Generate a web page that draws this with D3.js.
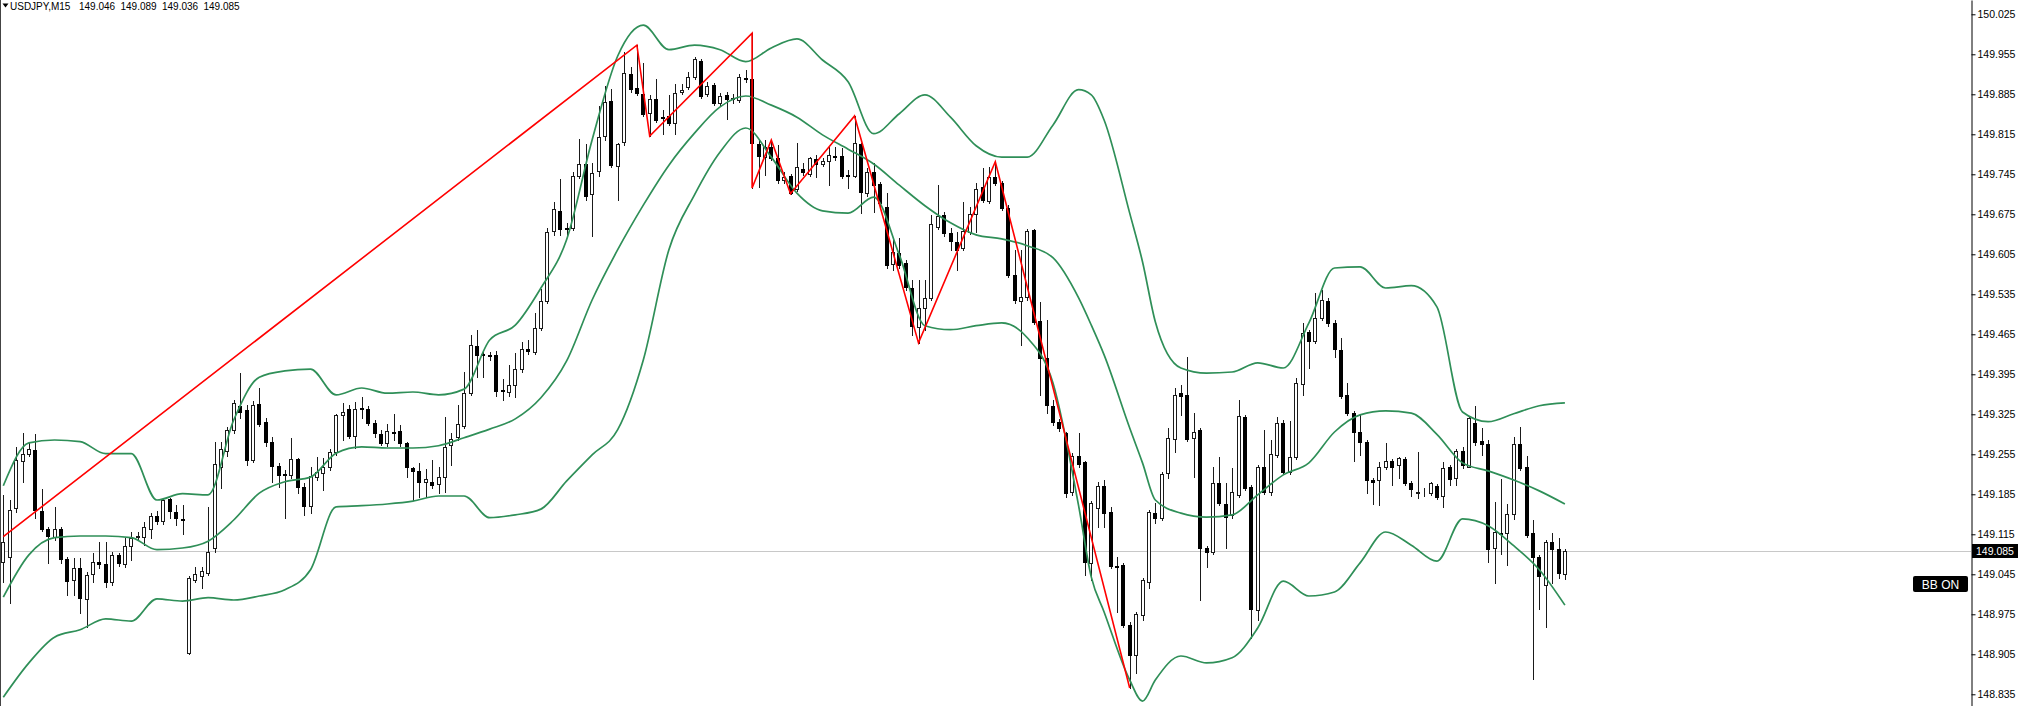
<!DOCTYPE html>
<html><head><meta charset="utf-8">
<script src="https://cdn.jsdelivr.net/npm/d3@7"></script>
<style>html,body{margin:0;padding:0;background:#fff;overflow:hidden}</style>
</head><body>
<svg id="c" width="2021" height="706" xmlns="http://www.w3.org/2000/svg"></svg>
<script>
const symbolLabel = "USDJPY,M15";
const indicatorLabel = "BB ON";
const lastPrice = 149.085;
const priceTicks = [150.025,149.955,149.885,149.815,149.745,149.675,149.605,149.535,149.465,149.395,149.325,149.255,149.185,149.115,149.045,148.975,148.905,148.835];

const opens = [149.066,149.075,149.161,149.243,149.255,149.262,149.156,149.124,149.110,149.124,149.072,149.035,149.056,149.002,149.046,149.067,149.063,149.032,149.079,149.063,149.095,149.110,149.110,149.124,149.147,149.138,149.177,149.154,149.142,148.907,149.035,149.042,149.047,149.091,149.233,149.261,149.298,149.340,149.333,149.245,149.343,149.312,149.277,149.235,149.221,149.219,149.247,149.198,149.165,149.215,149.222,149.233,149.259,149.324,149.334,149.287,149.336,149.334,149.310,149.290,149.275,149.294,149.296,149.275,149.231,149.226,149.206,149.206,149.203,149.215,149.271,149.285,149.305,149.362,149.445,149.431,149.429,149.429,149.368,149.364,149.376,149.404,149.439,149.434,149.476,149.523,149.646,149.681,149.651,149.651,149.742,149.763,149.711,149.751,149.812,149.873,149.760,149.802,149.921,149.896,149.886,149.852,149.877,149.845,149.847,149.835,149.889,149.898,149.915,149.943,149.886,149.901,149.870,149.884,149.877,149.875,149.914,149.912,149.798,149.775,149.793,149.774,149.735,149.742,149.719,149.754,149.746,149.772,149.763,149.768,149.777,149.777,149.744,149.742,149.798,149.712,149.749,149.728,149.688,149.588,149.607,149.590,149.546,149.478,149.511,149.529,149.653,149.674,149.642,149.627,149.616,149.644,149.676,149.723,149.698,149.740,149.730,149.686,149.569,149.523,149.530,149.648,149.488,149.424,149.340,149.312,149.292,149.189,149.252,149.242,149.065,149.161,149.200,149.154,149.060,149.061,148.956,148.904,148.974,149.032,149.152,149.143,149.222,149.282,149.362,149.359,149.284,149.298,149.091,149.084,149.205,149.168,149.149,149.184,149.320,149.198,148.983,149.233,149.189,149.254,149.310,149.224,149.250,149.378,149.469,149.453,149.494,149.523,149.485,149.438,149.359,149.327,149.294,149.277,149.210,149.210,149.233,149.243,149.236,149.247,149.205,149.187,149.187,149.187,149.200,149.182,149.233,149.214,149.261,149.233,149.310,149.278,149.273,149.091,149.117,149.117,149.151,149.273,149.233,149.117,149.075,149.026,149.102,149.089,149.046];
const highs = [149.184,149.175,149.268,149.292,149.275,149.290,149.194,149.128,149.163,149.128,149.075,149.074,149.074,149.049,149.082,149.102,149.102,149.084,149.082,149.109,149.119,149.119,149.137,149.152,149.156,149.179,149.179,149.166,149.166,149.042,149.058,149.058,149.163,149.277,149.277,149.303,149.350,149.397,149.341,149.348,149.371,149.319,149.285,149.240,149.228,149.284,149.249,149.205,149.233,149.250,149.249,149.264,149.326,149.345,149.341,149.347,149.355,149.340,149.315,149.298,149.308,149.325,149.306,149.277,149.233,149.240,149.229,149.245,149.233,149.320,149.292,149.341,149.399,149.464,149.473,149.434,149.434,149.436,149.387,149.411,149.432,149.452,149.455,149.502,149.544,149.651,149.697,149.737,149.660,149.749,149.807,149.798,149.765,149.865,149.900,149.894,149.800,149.959,149.933,149.971,149.940,149.884,149.912,149.858,149.884,149.903,149.903,149.924,149.950,149.947,149.907,149.905,149.887,149.889,149.886,149.921,149.928,149.992,149.805,149.805,149.805,149.796,149.749,149.746,149.800,149.765,149.776,149.779,149.774,149.793,149.793,149.791,149.753,149.847,149.799,149.756,149.765,149.732,149.712,149.634,149.634,149.595,149.560,149.560,149.560,149.674,149.726,149.679,149.651,149.644,149.697,149.688,149.730,149.756,149.758,149.767,149.733,149.691,149.613,149.613,149.649,149.650,149.522,149.490,149.350,149.317,149.294,149.257,149.292,149.243,149.173,149.206,149.210,149.163,149.075,149.065,148.962,148.979,149.039,149.158,149.170,149.224,149.301,149.371,149.376,149.425,149.327,149.301,149.095,149.233,149.250,149.205,149.231,149.350,149.324,149.201,149.236,149.298,149.280,149.320,149.315,149.313,149.389,149.485,149.473,149.537,149.543,149.529,149.490,149.459,149.380,149.331,149.324,149.280,149.214,149.242,149.275,149.247,149.250,149.250,149.208,149.259,149.196,149.206,149.203,149.242,149.236,149.264,149.268,149.321,149.340,149.301,149.280,149.172,149.212,149.168,149.285,149.303,149.252,149.140,149.079,149.105,149.117,149.109,149.089];
const lows = [149.031,148.995,149.154,149.206,149.252,149.143,149.121,149.065,149.105,149.065,149.009,149.009,148.977,148.953,149.032,149.056,149.023,149.026,149.060,149.058,149.070,149.105,149.096,149.109,149.133,149.133,149.143,149.131,149.116,148.905,149.032,149.021,149.044,149.084,149.196,149.252,149.292,149.319,149.236,149.242,149.305,149.270,149.206,149.198,149.143,149.214,149.187,149.149,149.152,149.210,149.193,149.228,149.254,149.280,149.284,149.266,149.319,149.306,149.285,149.271,149.270,149.280,149.270,149.215,149.175,149.180,149.180,149.196,149.187,149.189,149.236,149.280,149.301,149.359,149.390,149.390,149.420,149.357,149.350,149.357,149.355,149.399,149.431,149.431,149.473,149.520,149.639,149.639,149.639,149.648,149.739,149.700,149.637,149.742,149.805,149.758,149.700,149.796,149.889,149.884,149.847,149.812,149.837,149.816,149.831,149.816,149.886,149.894,149.912,149.879,149.882,149.866,149.865,149.842,149.870,149.872,149.907,149.721,149.723,149.744,149.770,149.730,149.730,149.711,149.716,149.744,149.742,149.740,149.760,149.726,149.770,149.739,149.721,149.740,149.677,149.707,149.679,149.690,149.581,149.578,149.581,149.543,149.464,149.450,149.473,149.525,149.649,149.637,149.613,149.578,149.613,149.641,149.644,149.697,149.695,149.726,149.683,149.565,149.520,149.446,149.525,149.483,149.359,149.327,149.306,149.296,149.180,149.184,149.233,149.044,149.035,149.128,149.128,149.056,148.979,148.953,148.846,148.872,148.965,149.021,149.135,149.140,149.214,149.259,149.324,149.278,149.215,149.000,149.058,149.081,149.166,149.091,149.143,149.180,149.193,148.934,148.965,149.186,149.184,149.250,149.221,149.221,149.247,149.359,149.406,149.450,149.490,149.480,149.425,149.354,149.324,149.243,149.254,149.187,149.168,149.166,149.229,149.201,149.214,149.201,149.182,149.179,149.182,149.184,149.177,149.163,149.201,149.201,149.231,149.232,149.271,149.254,149.067,149.030,149.081,149.061,149.142,149.228,149.110,148.862,148.984,148.953,149.030,149.039,149.036];
const closes = [149.101,149.158,149.245,149.255,149.264,149.157,149.124,149.112,149.124,149.072,149.033,149.056,149.004,149.044,149.067,149.063,149.032,149.079,149.065,149.095,149.109,149.112,149.128,149.147,149.138,149.175,149.156,149.143,149.140,149.039,149.046,149.051,149.084,149.238,149.264,149.298,149.345,149.329,149.245,149.341,149.308,149.277,149.235,149.219,149.219,149.247,149.198,149.165,149.217,149.224,149.233,149.259,149.324,149.329,149.287,149.334,149.334,149.310,149.292,149.275,149.296,149.292,149.275,149.233,149.226,149.206,149.212,149.201,149.215,149.268,149.282,149.308,149.362,149.446,149.429,149.429,149.427,149.366,149.366,149.376,149.404,149.439,149.436,149.476,149.523,149.644,149.684,149.649,149.649,149.742,149.763,149.707,149.747,149.810,149.872,149.761,149.798,149.922,149.894,149.887,149.851,149.877,149.840,149.844,149.835,149.887,149.893,149.915,149.947,149.882,149.900,149.870,149.882,149.877,149.879,149.915,149.912,149.800,149.777,149.793,149.774,149.735,149.740,149.712,149.758,149.749,149.774,149.763,149.768,149.779,149.775,149.742,149.742,149.800,149.714,149.749,149.726,149.695,149.586,149.609,149.586,149.548,149.480,149.511,149.529,149.658,149.672,149.642,149.628,149.613,149.646,149.676,149.719,149.700,149.740,149.730,149.686,149.569,149.525,149.530,149.646,149.487,149.424,149.341,149.312,149.301,149.187,149.252,149.238,149.067,149.170,149.200,149.152,149.060,149.058,148.956,148.904,148.976,149.035,149.154,149.143,149.221,149.284,149.359,149.357,149.282,149.294,149.091,149.084,149.205,149.170,149.145,149.189,149.322,149.196,148.984,149.233,149.189,149.255,149.310,149.224,149.250,149.380,149.467,149.453,149.494,149.525,149.485,149.439,149.357,149.327,149.294,149.277,149.210,149.206,149.233,149.243,149.233,149.249,149.205,149.194,149.189,149.188,149.205,149.180,149.231,149.212,149.261,149.236,149.319,149.277,149.273,149.089,149.119,149.116,149.151,149.273,149.231,149.114,149.075,149.042,149.102,149.089,149.047,149.085];

const zigzagIdx = [0,99,101,117,117,120,123,133,143,155,176];
const zigzagPrice = [149.111,149.971,149.812,149.992,149.721,149.805,149.711,149.847,149.450,149.767,148.846];

const bandIdx = [0,4,8,12,16,20,24,28,32,36,40,44,48,52,56,60,64,68,72,76,80,84,88,92,96,100,104,108,112,116,120,124,128,132,136,140,144,148,152,156,160,164,168,170,172,176,178,180,184,188,192,196,200,204,208,212,216,220,224,228,232,236,240,244];
const upperBand = [149.200,149.275,149.280,149.277,149.256,149.256,149.175,149.186,149.184,149.315,149.390,149.401,149.404,149.359,149.371,149.362,149.364,149.359,149.369,149.455,149.481,149.546,149.630,149.805,149.952,150.006,149.963,149.971,149.963,149.942,149.966,149.982,149.945,149.907,149.816,149.851,149.884,149.845,149.795,149.775,149.775,149.831,149.893,149.884,149.840,149.677,149.592,149.487,149.406,149.397,149.399,149.415,149.406,149.485,149.581,149.583,149.546,149.550,149.513,149.329,149.312,149.326,149.340,149.345];
const middleBand = [149.005,149.079,149.109,149.112,149.112,149.109,149.088,149.091,149.103,149.140,149.187,149.207,149.215,149.257,149.268,149.266,149.266,149.270,149.284,149.299,149.317,149.354,149.418,149.525,149.613,149.691,149.761,149.817,149.863,149.882,149.866,149.845,149.814,149.789,149.763,149.726,149.690,149.660,149.639,149.632,149.620,149.599,149.529,149.481,149.429,149.301,149.240,149.175,149.152,149.145,149.149,149.184,149.219,149.240,149.294,149.324,149.331,149.327,149.290,149.240,149.226,149.210,149.191,149.168];
const lowerBand = [148.830,148.890,148.935,148.948,148.967,148.963,149.002,148.998,149.004,149.000,149.007,149.018,149.053,149.163,149.165,149.168,149.173,149.182,149.182,149.144,149.149,149.159,149.208,149.254,149.298,149.420,149.613,149.709,149.784,149.826,149.775,149.712,149.681,149.677,149.705,149.604,149.480,149.473,149.480,149.485,149.459,149.380,149.166,149.040,148.979,148.860,148.823,148.860,148.902,148.890,148.899,148.951,149.033,149.007,149.014,149.065,149.119,149.096,149.068,149.142,149.130,149.095,149.053,148.991];

// ---- layout ----
const W = 2021, H = 706, axisX = 1971;
const FONT = "'Liberation Sans', Arial, sans-serif";
const svg = d3.select("#c");
const n = opens.length;
const x = d3.scaleLinear().domain([0, n - 1]).range([3.3, 3.3 + (n - 1) * 6.4]);
const y = d3.scaleLinear().domain([148.8145, 150.050]).range([H, 0]);

svg.append("rect").attr("width", W).attr("height", H).attr("fill", "#fff");

// current price line
svg.append("line").attr("x1", 0).attr("x2", axisX).attr("y1", Math.round(y(lastPrice)) + 0.5).attr("y2", Math.round(y(lastPrice)) + 0.5)
  .attr("stroke", "#c8c8c8").attr("stroke-width", 1);

// candles
const idx = d3.range(n);
const px = i => Math.round(x(i));
const cg = svg.append("g").attr("shape-rendering", "crispEdges");
cg.selectAll("line.w").data(idx).join("line").attr("class", "w")
  .attr("x1", i => px(i) + 0.5).attr("x2", i => px(i) + 0.5)
  .attr("y1", i => Math.round(y(highs[i]))).attr("y2", i => Math.round(y(lows[i])) + 1)
  .attr("stroke", "#1a1a1a").attr("stroke-width", 1);
cg.selectAll("rect.b").data(idx).join("rect").attr("class", "b")
  .each(function(i) {
    const bull = closes[i] >= opens[i];
    const top = Math.round(y(Math.max(opens[i], closes[i])));
    const bot = Math.round(y(Math.min(opens[i], closes[i])));
    const sel = d3.select(this);
    if (bull) {
      sel.attr("x", px(i) - 1.5).attr("y", top + 0.5).attr("width", 3).attr("height", Math.max(0, bot - top))
        .attr("fill", "#fff").attr("stroke", "#1a1a1a").attr("stroke-width", 1);
    } else {
      sel.attr("x", px(i) - 2).attr("y", top).attr("width", 4).attr("height", Math.max(1, bot - top + 1))
        .attr("fill", "#000");
    }
  });

// Bollinger bands
const bandLine = arr => d3.line().x((d, k) => x(bandIdx[k])).y(d => y(d)).curve(d3.curveMonotoneX)(arr);
[upperBand, middleBand, lowerBand].forEach(b => {
  svg.append("path").attr("d", bandLine(b)).attr("fill", "none").attr("stroke", "#2f8f58").attr("stroke-width", 1.7);
});

// zigzag
const zz = d3.line().x((d, k) => x(zigzagIdx[k])).y(d => y(d));
svg.append("path").attr("d", zz(zigzagPrice)).attr("fill", "none").attr("stroke", "#ff0000").attr("stroke-width", 1.6);

// left frame line
svg.append("line").attr("x1", 0.5).attr("x2", 0.5).attr("y1", 0).attr("y2", H).attr("stroke", "#444");

// price axis
const axis = d3.axisRight(y).tickValues(priceTicks).tickFormat(d3.format(".3f")).tickSize(4).tickSizeOuter(0).tickPadding(2);
const ag = svg.append("g").attr("transform", `translate(${axisX + 0.5},0)`).call(axis);
ag.attr("font-family", FONT).attr("font-size", 10.5);
ag.select(".domain").attr("stroke", "#000");
ag.selectAll(".tick line").attr("stroke", "#000");
ag.selectAll(".tick text").attr("fill", "#000").attr("dy", "0.28em");

// last price tag
const ly = Math.round(y(lastPrice));
svg.append("rect").attr("x", axisX + 1).attr("y", ly - 7).attr("width", 46).attr("height", 14).attr("fill", "#000");
svg.append("text").attr("x", axisX + 5).attr("y", ly + 4).attr("font-family", FONT).attr("font-size", 10.5).attr("fill", "#fff")
  .text(d3.format(".3f")(lastPrice));

// BB ON label
svg.append("rect").attr("x", 1913).attr("y", 576).attr("width", 55).attr("height", 16).attr("rx", 2).attr("fill", "#000");
svg.append("text").attr("x", 1940.5).attr("y", 588.5).attr("text-anchor", "middle").attr("font-family", FONT)
  .attr("font-size", 12).attr("fill", "#fff").text(indicatorLabel);

// header
svg.append("path").attr("d", "M2.5,3.5 L8.5,3.5 L5.5,7.5 Z").attr("fill", "#000");
const f3 = d3.format(".3f");
const hdr = svg.append("text").attr("y", 10).attr("font-family", FONT).attr("font-size", 10).attr("fill", "#000");
hdr.append("tspan").attr("x", 10).text(symbolLabel);
[opens[n-1], highs[n-1], lows[n-1], closes[n-1]].forEach((v, k) => {
  hdr.append("tspan").attr("x", 79 + k * 41.5).text(f3(v));
});
</script>
</body></html>
